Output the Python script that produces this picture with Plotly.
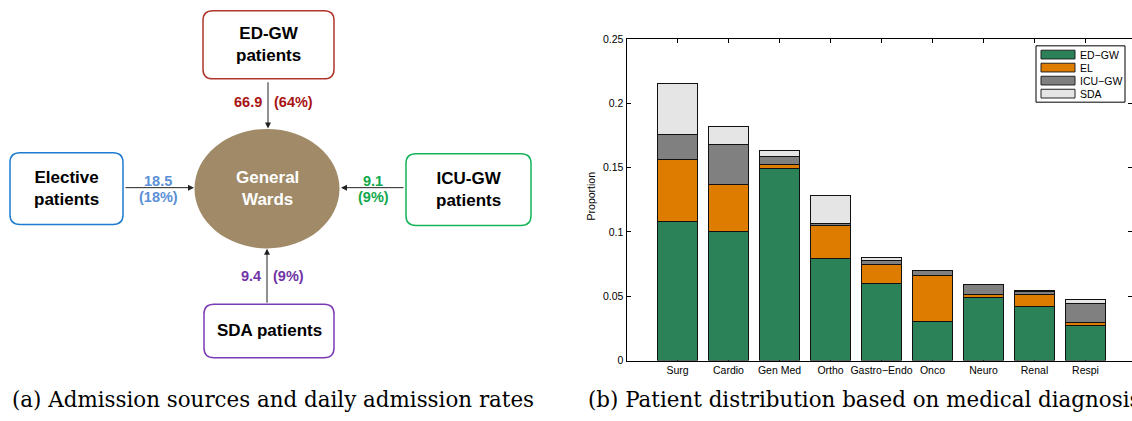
import plotly.graph_objects as go

# ---------------- Panel (a) data ----------------
box_labels = ["ED-GW<br>patients", "Elective<br>patients", "ICU-GW<br>patients", "SDA patients"]
daily_rates = [66.9, 18.5, 9.1, 9.4]
rate_shares = [64, 18, 9, 9]
hub_label = "General<br>Wards"

# ---------------- Panel (b) data ----------------
categories = ["Surg", "Cardio", "Gen Med", "Ortho", "Gastro\u2212Endo", "Onco", "Neuro", "Renal", "Respi"]
series_names = ["ED\u2212GW", "EL", "ICU\u2212GW", "SDA"]
ed_gw = [0.108, 0.100, 0.1496, 0.0792, 0.0602, 0.0304, 0.0491, 0.0421, 0.0272]
el = [0.048, 0.0372, 0.0026, 0.0257, 0.0142, 0.0359, 0.0025, 0.0091, 0.0025]
icu_gw = [0.0196, 0.0308, 0.0065, 0.0015, 0.0032, 0.0035, 0.0074, 0.0029, 0.0146]
sda = [0.0397, 0.014, 0.0045, 0.0216, 0.0027, 0.0, 0.0004, 0.0003, 0.003]
y_ticks = [0, 0.05, 0.1, 0.15, 0.2, 0.25]
y_tick_labels = ["0", "0.05", "0.1", "0.15", "0.2", "0.25"]
y_title = "Proportion"
captions = ["(a) Admission sources and daily admission rates",
            "(b) Patient distribution based on medical diagnosis"]

# ---------------- styling ----------------
W, H = 1132, 421
SANS = "Liberation Sans, Arial, Helvetica, sans-serif"
SERIF = "DejaVu Serif, serif"
series_colors = ["#2b8259", "#de7c00", "#808080", "#e5e5e5"]

# diagram geometry (pixel-like units on the diagram axes)
boxes = [(203, 5, 334, 75), (10, 151, 123, 225), (406, 152, 531, 226), (204, 307, 334, 362)]
box_line = ["#b0362c", "#1f7bd0", "#14b459", "#7a3bb5"]
label_col = ["#a81414", "#5b8fd6", "#10a84c", "#7034a8"]
arrows = [((268, 77), (268, 126)), ((124, 187), (194, 187)),
          ((405, 187), (341, 187)), ((267, 307), (267, 250))]
hub = (267, 188, 72.5, 61.5)


def px(x):
    return x / W


def py(y):
    return 1 - y / H


def rrect(x0, y0, x1, y1, r=10):
    return (f"M{x0+r},{y0} L{x1-r},{y0} Q{x1},{y0} {x1},{y0+r} L{x1},{y1-r} "
            f"Q{x1},{y1} {x1-r},{y1} L{x0+r},{y1} Q{x0},{y1} {x0},{y1-r} "
            f"L{x0},{y0+r} Q{x0},{y0} {x0+r},{y0} Z")


fig = go.Figure()

# ---------------- bars ----------------
positions = list(range(1, len(categories) + 1))
for name, vals, col in zip(series_names, [ed_gw, el, icu_gw, sda], series_colors):
    fig.add_trace(go.Bar(x=positions, y=vals, name=name, width=0.8,
                         marker=dict(color=col, line=dict(color="#111111", width=1)),
                         xaxis="x", yaxis="y", showlegend=False))
# helper trace so the right-hand tick axis is drawn
fig.add_trace(go.Scatter(x=[None], y=[None], xaxis="x", yaxis="y3", showlegend=False,
                         hoverinfo="skip"))

shapes = []
annotations = []

# ---------------- diagram ----------------
cx, cy, rx, ry = hub
shapes.append(dict(type="circle", xref="x2", yref="y2", x0=cx - rx, x1=cx + rx,
                   y0=cy - ry, y1=cy + ry, fillcolor="#a08a68", line=dict(width=0), layer="below"))
annotations.append(dict(xref="x2", yref="y2", x=cx, y=cy, text=f"<b>{hub_label}</b>",
                        showarrow=False, font=dict(family=SANS, size=17, color="white")))

for i, (b, lc) in enumerate(zip(boxes, box_line)):
    shapes.append(dict(type="path", xref="x2", yref="y2", path=rrect(*b),
                       line=dict(color=lc, width=1.5), fillcolor="white"))
    annotations.append(dict(xref="x2", yref="y2", x=(b[0] + b[2]) / 2, y=(b[1] + b[3]) / 2,
                            text=f"<b>{box_labels[i]}</b>", showarrow=False,
                            font=dict(family=SANS, size=17, color="black")))

for (s, e) in arrows:
    annotations.append(dict(xref="x2", yref="y2", axref="x2", ayref="y2",
                            x=e[0], y=e[1], ax=s[0], ay=s[1], text="", showarrow=True,
                            arrowhead=2, arrowsize=1.2, arrowwidth=1, arrowcolor="#222222"))

# rate labels
for i, (rate, share) in enumerate(zip(daily_rates, rate_shares)):
    col = label_col[i]
    f = dict(family=SANS, size=14.5, color=col)
    (sx, sy), (ex, ey) = arrows[i]
    if sx == ex:  # vertical arrow: labels on either side
        ly = 99 if i == 0 else 278
        annotations.append(dict(xref="x2", yref="y2", x=sx - 4, y=ly, xanchor="right",
                                text=f"<b>{rate}</b>", showarrow=False, font=f))
        annotations.append(dict(xref="x2", yref="y2", x=sx + 4, y=ly, xanchor="left",
                                text=f"<b>({share}%)</b>", showarrow=False, font=f))
    else:  # horizontal arrow: stacked labels
        mx = (sx + ex) / 2 + (-1 if i == 1 else 0)
        annotations.append(dict(xref="x2", yref="y2", x=mx, y=180,
                                text=f"<b>{rate}</b>", showarrow=False, font=f))
        annotations.append(dict(xref="x2", yref="y2", x=mx, y=197,
                                text=f"<b>({share}%)</b>", showarrow=False, font=f))

# ---------------- custom legend for bars ----------------
shapes.append(dict(type="rect", xref="paper", yref="paper", x0=px(1036), x1=px(1125),
                   y0=py(99), y1=py(41), line=dict(color="black", width=1), fillcolor="white"))
for k, (name, col) in enumerate(zip(series_names, series_colors)):
    yc = 50 + k * 13.4
    shapes.append(dict(type="rect", xref="paper", yref="paper", x0=px(1041), x1=px(1075),
                       y0=py(yc + 4.5), y1=py(yc - 4.5), fillcolor=col,
                       line=dict(color="#222222", width=1)))
    annotations.append(dict(xref="paper", yref="paper", x=px(1078), y=py(yc), xanchor="left",
                            yanchor="middle", text=name, showarrow=False,
                            font=dict(family=SANS, size=10.5, color="black")))

# y title
annotations.append(dict(xref="paper", yref="paper", x=px(591), y=py(196), text=y_title,
                        textangle=-90, showarrow=False, xanchor="center", yanchor="middle",
                        font=dict(family=SANS, size=10.5, color="black")))

# captions
annotations.append(dict(xref="paper", yref="paper", x=px(10), y=py(405), xanchor="left",
                        yanchor="middle", text=captions[0], showarrow=False,
                        font=dict(family=SERIF, size=21.4, color="black")))
annotations.append(dict(xref="paper", yref="paper", x=px(586), y=py(405), xanchor="left",
                        yanchor="middle", text=captions[1], showarrow=False,
                        font=dict(family=SERIF, size=21.4, color="black")))

x_left, x_step = 626.5, 51.0
fig.update_layout(
    width=W, height=H, margin=dict(l=0, r=0, t=0, b=0),
    paper_bgcolor="white", plot_bgcolor="white",
    barmode="stack", bargap=0.2,
    shapes=shapes, annotations=annotations,
    xaxis=dict(domain=[px(x_left), 1.0], range=[0, (W - x_left) / x_step],
               tickvals=positions, ticktext=categories, ticks="inside", ticklen=4,
               tickcolor="black", showline=True, linecolor="black", linewidth=1,
               mirror="ticks", showgrid=False, zeroline=False, layer="below traces",
               tickfont=dict(family=SANS, size=10.5, color="black"), anchor="y"),
    yaxis=dict(domain=[py(365), py(34)], range=[0, 0.25], tickvals=y_ticks,
               ticktext=y_tick_labels, ticks="inside", ticklen=4, tickcolor="black",
               showline=True, linecolor="black", linewidth=1, showgrid=False,
               zeroline=False, tickfont=dict(family=SANS, size=10.5, color="black"),
               anchor="x"),
    yaxis3=dict(overlaying="y", side="right", anchor="x", range=[0, 0.25], tickvals=y_ticks,
                ticks="inside", ticklen=4, tickcolor="black", showline=False,
                showticklabels=False, showgrid=False, zeroline=False),
    xaxis2=dict(domain=[0, 560 / W], range=[0, 560], visible=False, anchor="y2"),
    yaxis2=dict(domain=[0, 1], range=[421, 0], visible=False, anchor="x2"),
)

fig.write_html("out.html")
